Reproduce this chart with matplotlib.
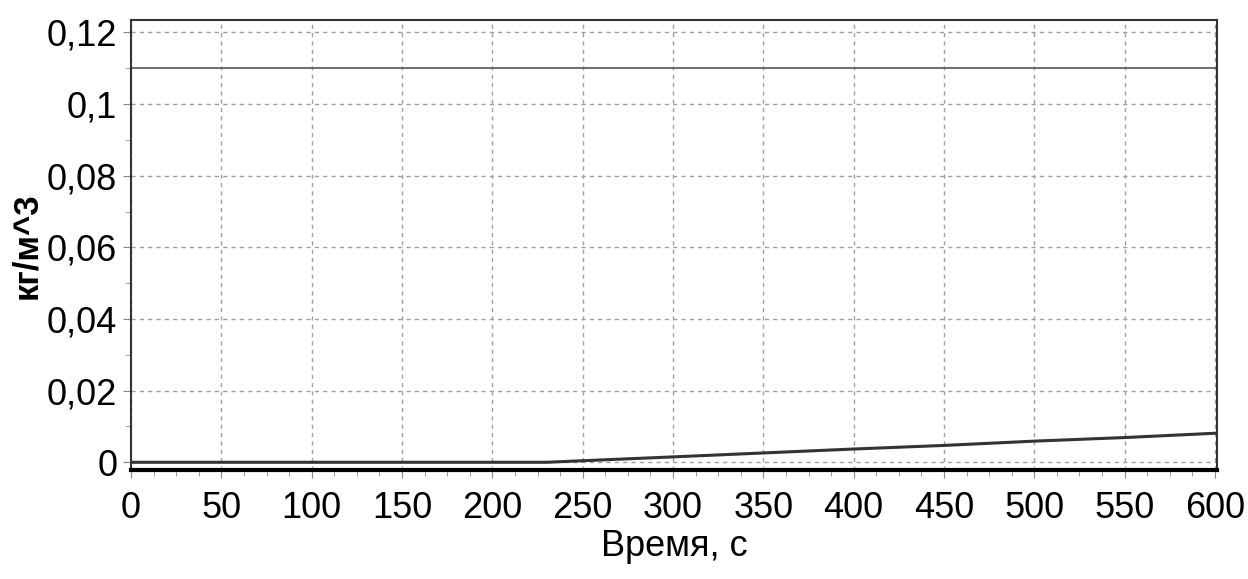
import matplotlib
matplotlib.use("Agg")
import matplotlib.pyplot as plt
from matplotlib.ticker import MultipleLocator, FuncFormatter

upper_t = [0, 600]
upper_val = [0.110, 0.110]

lower_t = [0, 230, 300, 350, 400, 450, 500, 550, 600]
lower_val = [0.0, 0.0, 0.0015, 0.0026, 0.0037, 0.0047, 0.0059, 0.0069, 0.0081]

x_ticks = list(range(0, 601, 50))
y_ticks = [0, 0.02, 0.04, 0.06, 0.08, 0.1, 0.12]

tick_font = ["Liberation Sans", "DejaVu Sans"]

fig = plt.figure(figsize=(12.48, 5.79), dpi=100)
ax = fig.add_axes([0.105, 0.188, 0.870, 0.777])

ax.plot(upper_t, upper_val, color="#555555", lw=1.2)
ax.plot(lower_t, lower_val, color="#333333", lw=2.2)

ax.set_xlim(0, 601)
ax.set_ylim(-0.0022, 0.1234)
ax.set_xticks(x_ticks)
ax.set_yticks(y_ticks)
ax.xaxis.set_minor_locator(MultipleLocator(12.5))
ax.yaxis.set_minor_locator(MultipleLocator(0.01))


def comma_fmt(v, pos):
    s = f"{v:.2f}".rstrip("0").rstrip(".")
    return s.replace(".", ",")


ax.yaxis.set_major_formatter(FuncFormatter(comma_fmt))

ax.grid(True, which="major", color="#a0a0a0", linestyle=(0, (3, 3)), lw=1.0)
ax.tick_params(which="both", direction="out", color="#888888")
ax.tick_params(which="major", length=6, pad=4)
ax.tick_params(which="minor", length=4)

for lbl in ax.get_xticklabels() + ax.get_yticklabels():
    lbl.set_family(tick_font)
    lbl.set_fontsize(26)
ax.tick_params(axis="x", pad=9)

for side in ["top", "right", "left"]:
    ax.spines[side].set_color("#333333")
    ax.spines[side].set_linewidth(1.5)
ax.spines["bottom"].set_color("black")
ax.spines["bottom"].set_linewidth(3)

ax.set_xlabel("Время, с", family=tick_font, fontsize=26, labelpad=2)
ax.set_ylabel("кг/м^3", family=tick_font, fontweight="bold", fontsize=25)
ax.yaxis.set_label_coords(-0.081, 0.5)

plt.savefig("out.png", dpi=100)
plt.close()
